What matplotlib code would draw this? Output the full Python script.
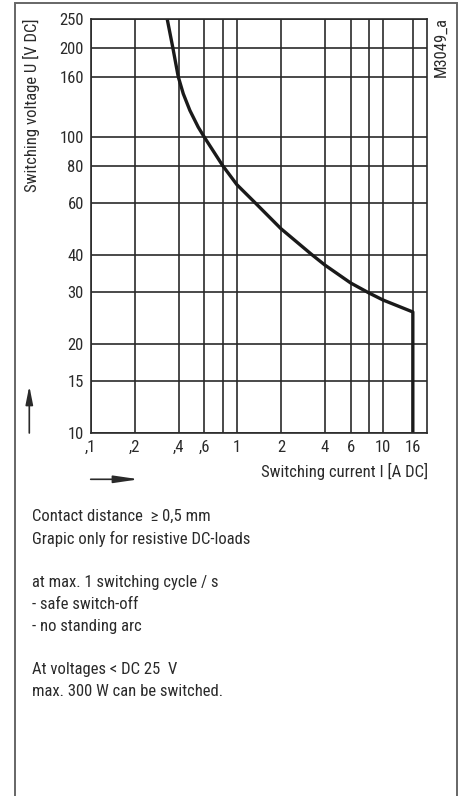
import matplotlib
matplotlib.use("Agg")
import matplotlib.pyplot as plt
from matplotlib import font_manager as fm
from matplotlib.patches import Rectangle
from matplotlib.ticker import FixedLocator, FixedFormatter, NullLocator

# the reference uses a narrow sans; take a condensed face if one is installed
ttf = fm.fontManager.ttflist
names = {f.name for f in ttf}
narrow = None
for cand in ['Liberation Sans Narrow', 'Roboto Condensed', 'Open Sans Condensed',
             'Noto Sans Condensed', 'DejaVu Sans Condensed']:
    if cand in names:
        narrow = cand
        break
if narrow is None:
    for f in ttf:
        if 'Condensed' in f.name or 'Narrow' in f.name:
            narrow = f.name
            break
if narrow is None:
    for f in ttf:
        if f.stretch in ('condensed', 'semi-condensed') and f.style == 'normal':
            narrow = f.name
            plt.rcParams['font.stretch'] = f.stretch
            break
plt.rcParams['font.family'] = ([narrow] if narrow else []) + ['DejaVu Sans']

# limit curve (current in A, voltage in V)
current = [0.334, 0.365, 0.397, 0.43, 0.477, 0.544, 0.598, 0.8, 1, 1.33, 2, 3.26, 4, 6, 8, 10, 16, 16]
voltage = [250, 200, 160, 140, 123, 108, 100, 80, 69, 60, 49, 40, 36.9, 32.1, 29.7, 28.1, 25.6, 10]

x_ticks = [0.1, 0.2, 0.4, 0.6, 0.8, 1, 2, 4, 6, 8, 10, 16]
x_labels = [",1", ",2", ",4", ",6", "", "1", "2", "4", "6", "", "10", "16"]
y_ticks = [10, 15, 20, 30, 40, 60, 80, 100, 160, 200, 250]
y_labels = [str(v) for v in y_ticks]

notes = [
    "Contact distance  \u2265 0,5 mm",
    "Grapic only for resistive DC-loads",
    "",
    "at max. 1 switching cycle / s",
    "- safe switch-off",
    "- no standing arc",
    "",
    "At voltages < DC 25  V",
    "max. 300 W can be switched.",
]

W, H = 466, 796
ink = '#2a2a2a'
fs = 12
fig = plt.figure(figsize=(W / 100, H / 100), dpi=100)

def fx(px):
    return px / W

def fy(py):
    return 1 - py / H

# outer frame
fig.patches.append(Rectangle((fx(15.3), fy(820)), fx(456.7) - fx(15.3), fy(3.5) - fy(820),
                             transform=fig.transFigure, fill=False, ec='#666666', lw=1.4))

ax = fig.add_axes([fx(90.7), fy(432.7), fx(427) - fx(90.7), fy(19.3) - fy(432.7)])
ax.set_xscale('log')
ax.set_yscale('log')
ax.set_xlim(0.1, 20)
ax.set_ylim(10, 250)

ax.xaxis.set_major_locator(FixedLocator(x_ticks))
ax.xaxis.set_major_formatter(FixedFormatter(x_labels))
ax.yaxis.set_major_locator(FixedLocator(y_ticks))
ax.yaxis.set_major_formatter(FixedFormatter(y_labels))
ax.xaxis.set_minor_locator(NullLocator())
ax.yaxis.set_minor_locator(NullLocator())
ax.tick_params(length=0, labelsize=fs, colors=ink, pad=5)
ax.grid(True, color=ink, lw=1.2)
for s in ax.spines.values():
    s.set_color(ink)
    s.set_linewidth(1.2)

ax.plot(current, voltage, color='#1a1a1a', lw=2.4, solid_capstyle='butt', solid_joinstyle='round')

fig.text(fx(31.5), fy(105), "Switching voltage U [V DC]", rotation=90,
         ha='center', va='center', fontsize=fs, color=ink)
fig.text(fx(428), fy(471.7), "Switching current I [A DC]", ha='right', va='center',
         fontsize=fs, color=ink)
fig.text(fx(441), fy(47), "M3049_a", rotation=90, ha='center', va='center',
         fontsize=fs, color=ink)

arrow = dict(arrowstyle='-|>,head_length=1.1,head_width=0.22', lw=1.2, color=ink,
             shrinkA=0, shrinkB=0)
fig.add_artist(plt.Annotation('', xy=(29.3, H - 386), xytext=(29.3, H - 433),
                              xycoords='figure pixels', textcoords='figure pixels',
                              arrowprops=arrow))
fig.add_artist(plt.Annotation('', xy=(139, H - 479.3), xytext=(90.7, H - 479.3),
                              xycoords='figure pixels', textcoords='figure pixels',
                              arrowprops=dict(arrow, arrowstyle='-|>,head_length=1.5,head_width=0.22')))

for i, line in enumerate(notes):
    if line:
        fig.text(fx(31.7), fy(516.7 + i * 21.87), line, ha='left', va='center',
                 fontsize=fs, color=ink)

fig.savefig("out.png", dpi=100)
